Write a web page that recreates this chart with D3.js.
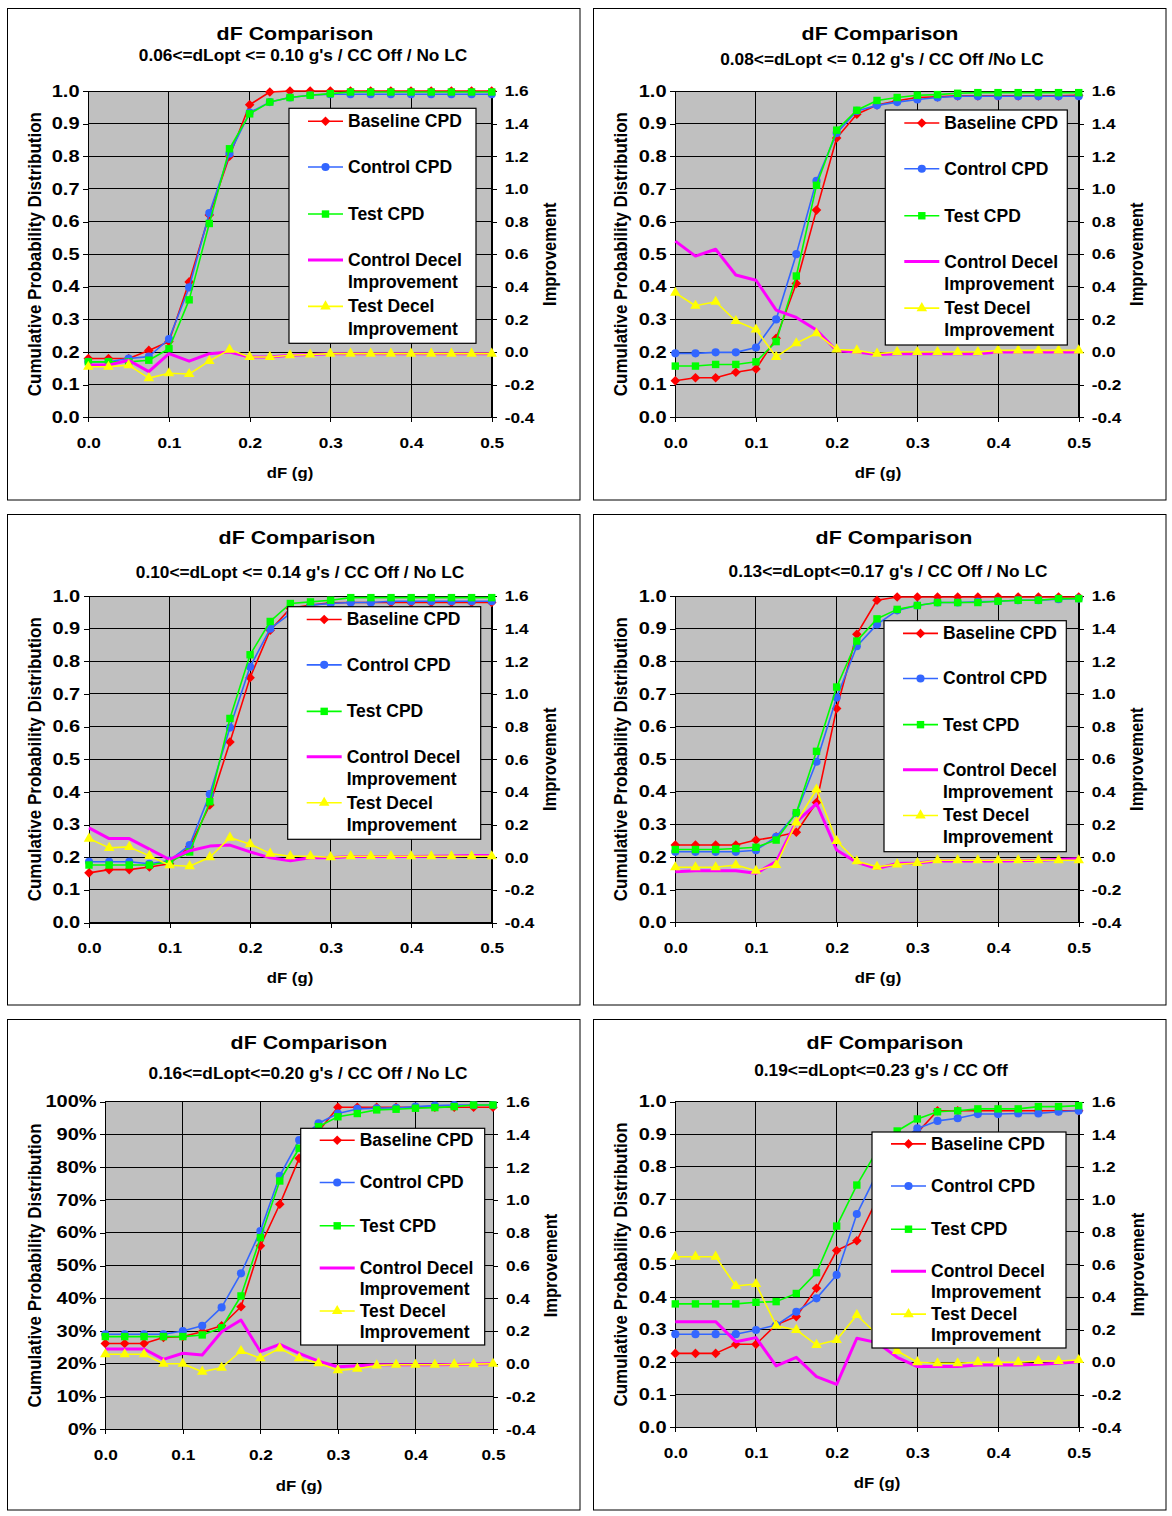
<!DOCTYPE html>
<html>
<head>
<meta charset="utf-8">
<script src="https://cdn.jsdelivr.net/npm/d3@7"></script>
<style>
  body { margin: 0; background: #fff; }
  svg text { font-family: "Liberation Sans", Arial, sans-serif; font-weight: bold; fill: #000; }
</style>
</head>
<body>
<div id="viz"></div>
<script>
// x categories (dF in g)
const dF = [0.000, 0.025, 0.050, 0.075, 0.100, 0.125, 0.150, 0.175, 0.200, 0.225, 0.250,
            0.275, 0.300, 0.325, 0.350, 0.375, 0.400, 0.425, 0.450, 0.475, 0.500];

const xTicks = [0, 0.1, 0.2, 0.3, 0.4, 0.5];
const cpdTicks = [0, 0.1, 0.2, 0.3, 0.4, 0.5, 0.6, 0.7, 0.8, 0.9, 1.0];
const impTicks = [-0.4, -0.2, 0, 0.2, 0.4, 0.6, 0.8, 1.0, 1.2, 1.4, 1.6];

const chartTitle = "dF Comparison";
const subtitles = [
  "0.06<=dLopt <= 0.10 g's / CC Off / No LC",
  "0.08<=dLopt <= 0.12 g's / CC Off /No LC",
  "0.10<=dLopt <= 0.14 g's / CC Off / No LC",
  "0.13<=dLopt<=0.17 g's / CC Off / No LC",
  "0.16<=dLopt<=0.20 g's / CC Off / No LC",
  "0.19<=dLopt<=0.23 g's / CC Off"
];
const seriesLabels = [["Baseline CPD"], ["Control CPD"], ["Test CPD"],
                      ["Control Decel", "Improvement"], ["Test Decel", "Improvement"]];

// panel 1
const p1Baseline = [0.18, 0.18, 0.18, 0.205, 0.232, 0.415, 0.62, 0.80, 0.958, 0.997, 1, 1, 1, 1, 1, 1, 1, 1, 1, 1, 1];
const p1Control = [0.17, 0.17, 0.18, 0.186, 0.24, 0.398, 0.626, 0.808, 0.934, 0.966, 0.98, 0.987, 0.99, 0.99, 0.99, 0.99, 0.99, 0.99, 0.99, 0.99, 0.99];
const p1Test = [0.17, 0.17, 0.17, 0.175, 0.21, 0.36, 0.594, 0.823, 0.93, 0.966, 0.98, 0.987, 0.992, 0.997, 0.997, 0.997, 0.997, 0.997, 0.997, 0.997, 0.997];
const p1CtrlDecel = [-0.08, -0.08, -0.05, -0.12, -0.01, -0.056, -0.01, 0.0, -0.03, -0.03, -0.02, -0.015, -0.01, -0.01, -0.01, -0.01, -0.01, -0.01, -0.01, -0.01, -0.01];
const p1TestDecel = [-0.09, -0.09, -0.08, -0.16, -0.13, -0.135, -0.055, 0.015, -0.03, -0.03, -0.02, -0.015, -0.01, -0.01, -0.01, -0.01, -0.01, -0.01, -0.01, -0.01, -0.01];

// panel 2
const p2Baseline = [0.112, 0.121, 0.121, 0.138, 0.148, 0.242, 0.41, 0.635, 0.856, 0.929, 0.957, 0.97, 0.98, 0.982, 0.985, 0.985, 0.985, 0.985, 0.985, 0.985, 0.987];
const p2Control = [0.196, 0.196, 0.199, 0.199, 0.214, 0.30, 0.50, 0.725, 0.871, 0.939, 0.956, 0.966, 0.974, 0.98, 0.984, 0.984, 0.984, 0.984, 0.984, 0.984, 0.984];
const p2Test = [0.157, 0.157, 0.162, 0.162, 0.17, 0.232, 0.433, 0.711, 0.88, 0.941, 0.971, 0.98, 0.987, 0.989, 0.993, 0.995, 0.995, 0.995, 0.995, 0.995, 0.995];
const p2CtrlDecel = [0.68, 0.588, 0.63, 0.472, 0.44, 0.257, 0.212, 0.135, 0.008, 0.0, -0.015, -0.01, -0.01, -0.01, -0.01, -0.01, 0.0, 0.0, 0.0, 0.0, 0.0];
const p2TestDecel = [0.363, 0.284, 0.308, 0.19, 0.138, -0.03, 0.054, 0.115, 0.016, 0.01, -0.01, 0.0, 0.0, 0.0, 0.0, 0.0, 0.01, 0.01, 0.01, 0.01, 0.01];

// panel 3
const p3Baseline = [0.152, 0.162, 0.162, 0.17, 0.18, 0.232, 0.36, 0.553, 0.75, 0.895, 0.962, 0.972, 0.979, 0.98, 0.98, 0.98, 0.98, 0.98, 0.98, 0.98, 0.98];
const p3Control = [0.186, 0.186, 0.186, 0.18, 0.19, 0.237, 0.393, 0.597, 0.783, 0.90, 0.946, 0.972, 0.977, 0.98, 0.98, 0.984, 0.984, 0.984, 0.984, 0.984, 0.984];
const p3Test = [0.176, 0.176, 0.176, 0.176, 0.186, 0.216, 0.37, 0.625, 0.82, 0.922, 0.977, 0.982, 0.987, 0.995, 0.995, 0.995, 0.995, 0.995, 0.995, 0.995, 0.995];
const p3CtrlDecel = [0.18, 0.114, 0.114, 0.049, -0.014, 0.04, 0.068, 0.074, 0.033, -0.004, -0.022, -0.004, -0.004, 0.004, 0.004, 0.004, 0.004, 0.006, 0.008, 0.01, 0.01];
const p3TestDecel = [0.114, 0.057, 0.063, 0.008, -0.049, -0.055, 0.0, 0.12, 0.08, 0.022, 0.006, 0.006, 0.0, 0.006, 0.006, 0.006, 0.006, 0.006, 0.006, 0.006, 0.006];

// panel 4
const p4Baseline = [0.237, 0.237, 0.237, 0.237, 0.252, 0.262, 0.276, 0.367, 0.655, 0.883, 0.987, 0.997, 0.997, 0.997, 0.997, 0.997, 0.997, 0.997, 0.997, 0.997, 0.997];
const p4Control = [0.216, 0.216, 0.216, 0.216, 0.221, 0.262, 0.334, 0.492, 0.689, 0.846, 0.913, 0.956, 0.971, 0.98, 0.98, 0.982, 0.984, 0.987, 0.987, 0.99, 0.992];
const p4Test = [0.223, 0.223, 0.223, 0.226, 0.23, 0.252, 0.336, 0.524, 0.721, 0.862, 0.93, 0.959, 0.971, 0.98, 0.98, 0.98, 0.984, 0.987, 0.987, 0.992, 0.992];
const p4CtrlDecel = [-0.09, -0.084, -0.084, -0.084, -0.1, -0.028, 0.216, 0.328, 0.043, -0.033, -0.07, -0.04, -0.036, -0.024, -0.024, -0.024, -0.024, -0.022, -0.02, -0.015, -0.01];
const p4TestDecel = [-0.063, -0.063, -0.063, -0.049, -0.084, -0.049, 0.212, 0.414, 0.098, -0.026, -0.06, -0.045, -0.037, -0.02, -0.02, -0.02, -0.02, -0.02, -0.02, -0.02, -0.02];

// panel 5
const p5Baseline = [0.262, 0.262, 0.262, 0.28, 0.283, 0.298, 0.316, 0.374, 0.56, 0.687, 0.827, 0.91, 0.983, 0.983, 0.983, 0.983, 0.983, 0.983, 0.983, 0.983, 0.983];
const p5Control = [0.29, 0.29, 0.29, 0.29, 0.30, 0.316, 0.372, 0.476, 0.605, 0.774, 0.883, 0.934, 0.964, 0.978, 0.98, 0.981, 0.985, 0.988, 0.99, 0.99, 0.99];
const p5Test = [0.283, 0.283, 0.283, 0.283, 0.283, 0.288, 0.31, 0.407, 0.585, 0.758, 0.858, 0.924, 0.954, 0.964, 0.975, 0.977, 0.98, 0.982, 0.985, 0.99, 0.99];
const p5CtrlDecel = [0.09, 0.09, 0.09, 0.027, 0.064, 0.054, 0.196, 0.267, 0.074, 0.119, 0.064, 0.016, -0.018, -0.012, -0.006, -0.006, -0.006, -0.006, -0.004, -0.002, 0.0];
const p5TestDecel = [0.058, 0.058, 0.058, 0.0, 0.0, -0.048, -0.024, 0.078, 0.034, 0.094, 0.034, 0.004, -0.04, -0.03, -0.01, -0.006, -0.006, -0.006, -0.004, -0.002, 0.0];

// panel 6
const p6Baseline = [0.227, 0.227, 0.227, 0.255, 0.255, 0.315, 0.34, 0.427, 0.543, 0.573, 0.70, 0.82, 0.905, 0.972, 0.972, 0.972, 0.972, 0.972, 0.972, 0.972, 0.972];
const p6Control = [0.286, 0.286, 0.286, 0.286, 0.299, 0.314, 0.355, 0.396, 0.468, 0.655, 0.78, 0.87, 0.918, 0.941, 0.949, 0.962, 0.962, 0.964, 0.964, 0.969, 0.972];
const p6Test = [0.379, 0.379, 0.379, 0.379, 0.384, 0.386, 0.411, 0.475, 0.618, 0.744, 0.85, 0.91, 0.947, 0.969, 0.972, 0.978, 0.978, 0.978, 0.985, 0.985, 0.988];
const p6CtrlDecel = [0.249, 0.249, 0.249, 0.126, 0.151, -0.023, 0.03, -0.089, -0.136, 0.147, 0.12, 0.03, -0.027, -0.027, -0.027, -0.017, -0.017, -0.017, -0.013, -0.007, 0.003];
const p6TestDecel = [0.648, 0.648, 0.648, 0.468, 0.48, 0.224, 0.198, 0.106, 0.136, 0.29, 0.17, 0.069, 0.0, -0.007, -0.007, 0.0, 0.0, 0.0, 0.007, 0.007, 0.013];

// series look (same in every panel)
const seriesStyle = [
  {color: "#ff0000", width: 1.6, marker: "diamond", axis: "left"},
  {color: "#3366ff", width: 1.6, marker: "circle", axis: "left"},
  {color: "#00ff00", width: 1.6, marker: "square", axis: "left"},
  {color: "#ff00ff", width: 3, marker: null, axis: "right"},
  {color: "#ffff00", width: 1.6, marker: "triangle", axis: "right"}
];

// layout of the six panels
const panels = [
  {frame: [7.5, 8.5, 580, 500], plot: [88.3, 91, 491.7, 417.3], legend: [289, 108.3, 187, 235],
   title: [295, 39.5], sub: [303, 61], xlab: [290, 478], ylabX: 40.5, impX: 556, pct: false,
   series: [p1Baseline, p1Control, p1Test, p1CtrlDecel, p1TestDecel]},
  {frame: [593.5, 8.5, 1166, 500], plot: [675.3, 91, 1078.7, 417.3], legend: [885.3, 110, 182, 235],
   title: [880, 39.5], sub: [882, 65], xlab: [878, 478], ylabX: 627, impX: 1143, pct: false,
   series: [p2Baseline, p2Control, p2Test, p2CtrlDecel, p2TestDecel]},
  {frame: [7.5, 514.5, 580, 1005], plot: [89, 596, 491.7, 922.5], legend: [287.7, 606.7, 193, 232.6],
   title: [297, 544], sub: [300, 578], xlab: [290, 983], ylabX: 40.5, impX: 556, pct: false,
   series: [p3Baseline, p3Control, p3Test, p3CtrlDecel, p3TestDecel]},
  {frame: [593.5, 514.5, 1166, 1005], plot: [675.3, 596, 1078.7, 922.3], legend: [884, 620.7, 182.3, 231],
   title: [894, 544], sub: [888, 577], xlab: [878, 983], ylabX: 627, impX: 1143, pct: false,
   series: [p4Baseline, p4Control, p4Test, p4CtrlDecel, p4TestDecel]},
  {frame: [7.5, 1019.5, 580, 1510], plot: [105.3, 1101.7, 493, 1429.3], legend: [300.7, 1128.3, 184, 216.7],
   title: [309, 1049], sub: [308, 1079], xlab: [299, 1491], ylabX: 40.5, impX: 557, pct: true,
   series: [p5Baseline, p5Control, p5Test, p5CtrlDecel, p5TestDecel]},
  {frame: [593.5, 1019.5, 1166, 1510], plot: [675.3, 1101.7, 1078.7, 1427.3], legend: [872, 1132, 194, 216],
   title: [885, 1049], sub: [881, 1076], xlab: [877, 1488], ylabX: 627, impX: 1144, pct: false,
   series: [p6Baseline, p6Control, p6Test, p6CtrlDecel, p6TestDecel]}
];

const svg = d3.select("#viz").append("svg")
  .attr("width", 1172).attr("height", 1516)
  .style("background", "#fff");

function symbolPath(kind) {
  if (kind === "diamond") return d3.symbol(d3.symbolSquare, 46)();
  if (kind === "circle") return d3.symbol(d3.symbolCircle, 52)();
  if (kind === "square") return d3.symbol(d3.symbolSquare, 55)();
  return d3.symbol(d3.symbolTriangle, 48)();
}

function label(g, x, y, str, size, anchor, sx, rot) {
  const tr = `translate(${x},${y})` + (rot ? ` rotate(${rot}) scale(1,${sx})` : ` scale(${sx},1)`);
  return g.append("text").attr("transform", tr)
    .attr("text-anchor", anchor).style("font-size", size + "px").text(str);
}

function styleAxis(ax, size, sx) {
  ax.attr("font-size", null).attr("font-family", null);
  ax.selectAll("path,line").attr("stroke", "#000").attr("shape-rendering", "crispEdges");
  ax.selectAll("text").style("font-size", size + "px").attr("transform", `scale(${sx},1)`);
}

function drawPanel(p, idx) {
  const g = svg.append("g");
  const [fx0, fy0, fx1, fy1] = p.frame;
  g.append("rect").attr("x", fx0).attr("y", fy0).attr("width", fx1 - fx0).attr("height", fy1 - fy0)
    .attr("fill", "#fff").attr("stroke", "#000").attr("stroke-width", 1);

  const [l, t, r, b] = p.plot;
  const x = d3.scaleLinear().domain([0, 0.5]).range([l, r]);
  const yL = d3.scaleLinear().domain([0, 1]).range([b, t]);
  const yR = d3.scaleLinear().domain([-0.4, 1.6]).range([b, t]);

  g.append("rect").attr("x", l).attr("y", t).attr("width", r - l).attr("height", b - t).attr("fill", "#c0c0c0");

  // gridlines
  g.append("g").selectAll("line").data(cpdTicks).join("line")
    .attr("x1", l).attr("x2", r).attr("y1", d => yL(d)).attr("y2", d => yL(d))
    .attr("stroke", "#000").attr("shape-rendering", "crispEdges");
  g.append("g").selectAll("line").data(xTicks.slice(1)).join("line")
    .attr("x1", d => x(d)).attr("x2", d => x(d)).attr("y1", t).attr("y2", b)
    .attr("stroke", "#000").attr("shape-rendering", "crispEdges");

  // axes
  const leftFmt = p.pct ? (d => Math.round(d * 100) + "%") : (d => d.toFixed(1));
  const axL = g.append("g").attr("transform", `translate(${l},0)`)
    .call(d3.axisLeft(yL).tickValues(cpdTicks).tickSize(5).tickSizeOuter(0).tickPadding(2).tickFormat(leftFmt));
  styleAxis(axL, 16, 1.25);

  const axR = g.append("g").attr("transform", `translate(${r},0)`)
    .call(d3.axisRight(yR).tickValues(impTicks).tickSize(5).tickSizeOuter(0).tickPadding(6.3).tickFormat(d => d.toFixed(1)));
  styleAxis(axR, 15, 1.15);

  const axB = g.append("g").attr("transform", `translate(0,${b})`)
    .call(d3.axisBottom(x).tickValues(xTicks).tickSize(5).tickSizeOuter(0).tickPadding(15.3).tickFormat(d => d.toFixed(1)));
  styleAxis(axB, 15, 1.15);

  // series
  p.series.forEach((vals, k) => {
    const st = seriesStyle[k];
    const y = st.axis === "left" ? yL : yR;
    const line = d3.line().x((d, i) => x(dF[i])).y(d => y(d));
    g.append("path").datum(vals).attr("d", line)
      .attr("fill", "none").attr("stroke", st.color).attr("stroke-width", st.width)
      .attr("stroke-linejoin", "round");
    if (st.marker) {
      g.append("g").selectAll("path").data(vals).join("path")
        .attr("d", symbolPath(st.marker))
        .attr("transform", (d, i) => `translate(${x(dF[i])},${y(d)})` + (st.marker === "diamond" ? " rotate(45)" : ""))
        .attr("fill", st.color);
    }
  });

  // legend
  const [lx, ly, lw, lh] = p.legend;
  const rows = [0.055, 0.25, 0.45, 0.645, 0.843];
  const lg = g.append("g");
  lg.append("rect").attr("x", lx).attr("y", ly).attr("width", lw).attr("height", lh)
    .attr("fill", "#fff").attr("stroke", "#000").attr("stroke-width", 1.2);
  seriesStyle.forEach((st, k) => {
    const cy = ly + lh * rows[k];
    lg.append("line").attr("x1", lx + 19).attr("x2", lx + 54).attr("y1", cy).attr("y2", cy)
      .attr("stroke", st.color).attr("stroke-width", st.width);
    if (st.marker) {
      lg.append("path").attr("d", symbolPath(st.marker))
        .attr("transform", `translate(${lx + 36.5},${cy})` + (st.marker === "diamond" ? " rotate(45)" : ""))
        .attr("fill", st.color);
    }
    seriesLabels[k].forEach((txt, j) => {
      label(lg, lx + 59, cy + 6 + j * lh * 0.095, txt, 17.5, "start", 1);
    });
  });

  // titles and axis titles
  label(g, p.title[0], p.title[1], chartTitle, 18.6, "middle", 1.15);
  label(g, p.sub[0], p.sub[1], subtitles[idx], 16, "middle", 1.08);
  label(g, p.xlab[0], p.xlab[1], "dF (g)", 15.5, "middle", 1.08);
  label(g, p.ylabX, (t + b) / 2, "Cumulative Probability Distribution", 17, "middle", 1.1, -90);
  label(g, p.impX, (t + b) / 2, "Improvement", 16.5, "middle", 1.1, -90);
}

panels.forEach(drawPanel);
</script>
</body>
</html>
